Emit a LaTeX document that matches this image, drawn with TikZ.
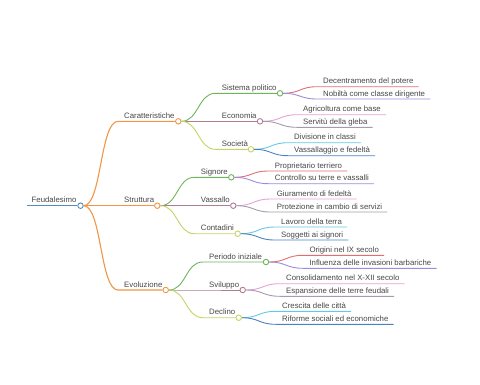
\documentclass[tikz,border=0pt]{standalone}
\usepackage{fontspec}
\setmainfont{Liberation Sans}
\definecolor{rootblue}{RGB}{84,140,190}
\definecolor{orangeA}{RGB}{240,150,70}
\definecolor{greenB}{RGB}{110,180,90}
\definecolor{mauveB}{RGB}{175,125,145}
\definecolor{limeB}{RGB}{200,210,100}
\definecolor{leafred}{RGB}{225,110,115}
\definecolor{leafviolet}{RGB}{155,140,220}
\definecolor{leafpink}{RGB}{230,160,215}
\definecolor{leafgray}{RGB}{165,155,170}
\definecolor{leafcyan}{RGB}{100,200,225}
\definecolor{leafblue}{RGB}{75,130,195}
\definecolor{txtgray}{RGB}{70,70,70}
\begin{document}
\begin{tikzpicture}[x=1pt, y=-1pt,
    every node/.style={font=\fontsize{7.8}{9}\selectfont, text=txtgray},
    hub/.style={circle, draw=#1, fill=white, line width=0.9pt, inner sep=0pt, minimum size=5.5pt},
    txt/.style={anchor=base west, inner sep=0pt},
    branch/.style={draw=#1, line width=0.9pt}]
    \useasboundingbox (0,0) rectangle (480,384);

    % Root
    \coordinate (root-s) at (27,205.7);
    \node[hub=rootblue] (root) at (80.5,205.7) {};
    \node[txt] (root-t) at (31.5,202.7) {Feudalesimo};
    \draw[branch=rootblue, line width=1.3pt] (root-s) -- (root);

    % Caratteristiche
    \coordinate (car-s) at (118,121.3);
    \node[hub=orangeA] (car) at (178.3,121.3) {};
    \node[txt] (car-t) at (124,118.3) {Caratteristiche};
    \draw[branch=orangeA, line width=1.1pt] (root.east) .. controls +(18,0) and +(-18,0) .. (car-s) -- (car);

    \coordinate (sp-s) at (215.3,93.3);
    \node[hub=greenB] (sp) at (280,93.3) {};
    \node[txt] (sp-t) at (221.7,90.3) {Sistema politico};
    \draw[branch=greenB] (car.east) .. controls +(17,0) and +(-17,0) .. (sp-s) -- (sp);
    \coordinate (sp1-s) at (317,86.7);
    \node[txt] (sp1) at (323,83.7) {Decentramento del potere};
    \draw[branch=leafred] (sp.east) .. controls +(17,0) and +(-17,0) .. (sp1-s) -- (sp1-s -| sp1.east) -- ++(5,0);
    \coordinate (sp2-s) at (317,99);
    \node[txt] (sp2) at (323,96) {Nobiltà come classe dirigente};
    \draw[branch=leafviolet] (sp.east) .. controls +(17,0) and +(-17,0) .. (sp2-s) -- (sp2-s -| sp2.east) -- ++(5,0);

    \coordinate (eco-s) at (215.3,121.3);
    \node[hub=mauveB] (eco) at (260,121.3) {};
    \node[txt] (eco-t) at (221.7,118.3) {Economia};
    \draw[branch=mauveB] (car.east) -- (eco-s) -- (eco);
    \coordinate (eco1-s) at (297,114.7);
    \node[txt] (eco1) at (303,111.7) {Agricoltura come base};
    \draw[branch=leafpink] (eco.east) .. controls +(17,0) and +(-17,0) .. (eco1-s) -- (eco1-s -| eco1.east) -- ++(5,0);
    \coordinate (eco2-s) at (297,127.3);
    \node[txt] (eco2) at (303,124.3) {Servitù della gleba};
    \draw[branch=leafgray] (eco.east) .. controls +(17,0) and +(-17,0) .. (eco2-s) -- (eco2-s -| eco2.east) -- ++(5,0);

    \coordinate (soc-s) at (215.3,149.3);
    \node[hub=limeB] (soc) at (251,149.3) {};
    \node[txt] (soc-t) at (221.7,146.3) {Società};
    \draw[branch=limeB] (car.east) .. controls +(17,0) and +(-17,0) .. (soc-s) -- (soc);
    \coordinate (soc1-s) at (288,142.7);
    \node[txt] (soc1) at (294,139.7) {Divisione in classi};
    \draw[branch=leafcyan] (soc.east) .. controls +(17,0) and +(-17,0) .. (soc1-s) -- (soc1-s -| soc1.east) -- ++(5,0);
    \coordinate (soc2-s) at (288,155.7);
    \node[txt] (soc2) at (294,152.7) {Vassallaggio e fedeltà};
    \draw[branch=leafblue] (soc.east) .. controls +(17,0) and +(-17,0) .. (soc2-s) -- (soc2-s -| soc2.east) -- ++(5,0);

    % Struttura
    \coordinate (str-s) at (118,205.7);
    \node[hub=orangeA] (str) at (157.3,205.7) {};
    \node[txt] (str-t) at (124,202.7) {Struttura};
    \draw[branch=orangeA, line width=1.1pt] (root.east) -- (str-s) -- (str);

    \coordinate (sig-s) at (194.3,177.3);
    \node[hub=greenB] (sig) at (231.3,177.3) {};
    \node[txt] (sig-t) at (200.7,174.3) {Signore};
    \draw[branch=greenB] (str.east) .. controls +(17,0) and +(-17,0) .. (sig-s) -- (sig);
    \coordinate (sig1-s) at (268.5,171);
    \node[txt] (sig1) at (274.7,168) {Proprietario terriero};
    \draw[branch=leafred] (sig.east) .. controls +(17,0) and +(-17,0) .. (sig1-s) -- (sig1-s -| sig1.east) -- ++(5,0);
    \coordinate (sig2-s) at (268.5,183.7);
    \node[txt] (sig2) at (274.7,180.7) {Controllo su terre e vassalli};
    \draw[branch=leafviolet] (sig.east) .. controls +(17,0) and +(-17,0) .. (sig2-s) -- (sig2-s -| sig2.east) -- ++(5,0);

    \coordinate (vas-s) at (194.3,205.7);
    \node[hub=mauveB] (vas) at (233.3,205.7) {};
    \node[txt] (vas-t) at (200.7,202.7) {Vassallo};
    \draw[branch=mauveB] (str.east) -- (vas-s) -- (vas);
    \coordinate (vas1-s) at (270.5,199);
    \node[txt] (vas1) at (276.7,196) {Giuramento di fedeltà};
    \draw[branch=leafpink] (vas.east) .. controls +(17,0) and +(-17,0) .. (vas1-s) -- (vas1-s -| vas1.east) -- ++(5,0);
    \coordinate (vas2-s) at (270.5,212);
    \node[txt] (vas2) at (276.7,209) {Protezione in cambio di servizi};
    \draw[branch=leafgray] (vas.east) .. controls +(17,0) and +(-17,0) .. (vas2-s) -- (vas2-s -| vas2.east) -- ++(5,0);

    \coordinate (con-s) at (194.3,233.7);
    \node[hub=limeB] (con) at (237.7,233.7) {};
    \node[txt] (con-t) at (200.7,230.7) {Contadini};
    \draw[branch=limeB] (str.east) .. controls +(17,0) and +(-17,0) .. (con-s) -- (con);
    \coordinate (con1-s) at (274.8,227);
    \node[txt] (con1) at (281,224) {Lavoro della terra};
    \draw[branch=leafcyan] (con.east) .. controls +(17,0) and +(-17,0) .. (con1-s) -- (con1-s -| con1.east) -- ++(5,0);
    \coordinate (con2-s) at (274.8,240);
    \node[txt] (con2) at (281,237) {Soggetti ai signori};
    \draw[branch=leafblue] (con.east) .. controls +(17,0) and +(-17,0) .. (con2-s) -- (con2-s -| con2.east) -- ++(5,0);

    % Evoluzione
    \coordinate (evo-s) at (118,290);
    \node[hub=orangeA] (evo) at (165.7,290) {};
    \node[txt] (evo-t) at (124,287) {Evoluzione};
    \draw[branch=orangeA, line width=1.1pt] (root.east) .. controls +(18,0) and +(-18,0) .. (evo-s) -- (evo);

    \coordinate (per-s) at (202.7,262);
    \node[hub=greenB] (per) at (266,262) {};
    \node[txt] (per-t) at (209,259) {Periodo iniziale};
    \draw[branch=greenB] (evo.east) .. controls +(17,0) and +(-17,0) .. (per-s) -- (per);
    \coordinate (per1-s) at (303,255.3);
    \node[txt] (per1) at (309.3,252.3) {Origini nel IX secolo};
    \draw[branch=leafred] (per.east) .. controls +(17,0) and +(-17,0) .. (per1-s) -- (per1-s -| per1.east) -- ++(5,0);
    \coordinate (per2-s) at (303,268.3);
    \node[txt] (per2) at (309.3,265.3) {Influenza delle invasioni barbariche};
    \draw[branch=leafviolet] (per.east) .. controls +(17,0) and +(-17,0) .. (per2-s) -- (per2-s -| per2.east) -- ++(5,0);

    \coordinate (svi-s) at (202.7,290);
    \node[hub=mauveB] (svi) at (242.7,290) {};
    \node[txt] (svi-t) at (209,287) {Sviluppo};
    \draw[branch=mauveB] (evo.east) -- (svi-s) -- (svi);
    \coordinate (svi1-s) at (279.8,283.7);
    \node[txt] (svi1) at (286,280.7) {Consolidamento nel X-XII secolo};
    \draw[branch=leafpink] (svi.east) .. controls +(17,0) and +(-17,0) .. (svi1-s) -- (svi1-s -| svi1.east) -- ++(5,0);
    \coordinate (svi2-s) at (279.8,296.3);
    \node[txt] (svi2) at (286,293.3) {Espansione delle terre feudali};
    \draw[branch=leafgray] (svi.east) .. controls +(17,0) and +(-17,0) .. (svi2-s) -- (svi2-s -| svi2.east) -- ++(5,0);

    \coordinate (dec-s) at (202.7,317.7);
    \node[hub=limeB] (dec) at (238.7,317.7) {};
    \node[txt] (dec-t) at (209,314.7) {Declino};
    \draw[branch=limeB] (evo.east) .. controls +(17,0) and +(-17,0) .. (dec-s) -- (dec);
    \coordinate (dec1-s) at (275.8,311.3);
    \node[txt] (dec1) at (282,308.3) {Crescita delle città};
    \draw[branch=leafcyan] (dec.east) .. controls +(17,0) and +(-17,0) .. (dec1-s) -- (dec1-s -| dec1.east) -- ++(5,0);
    \coordinate (dec2-s) at (275.8,324.3);
    \node[txt] (dec2) at (282,321.3) {Riforme sociali ed economiche};
    \draw[branch=leafblue] (dec.east) .. controls +(17,0) and +(-17,0) .. (dec2-s) -- (dec2-s -| dec2.east) -- ++(5,0);
\end{tikzpicture}
\end{document}
